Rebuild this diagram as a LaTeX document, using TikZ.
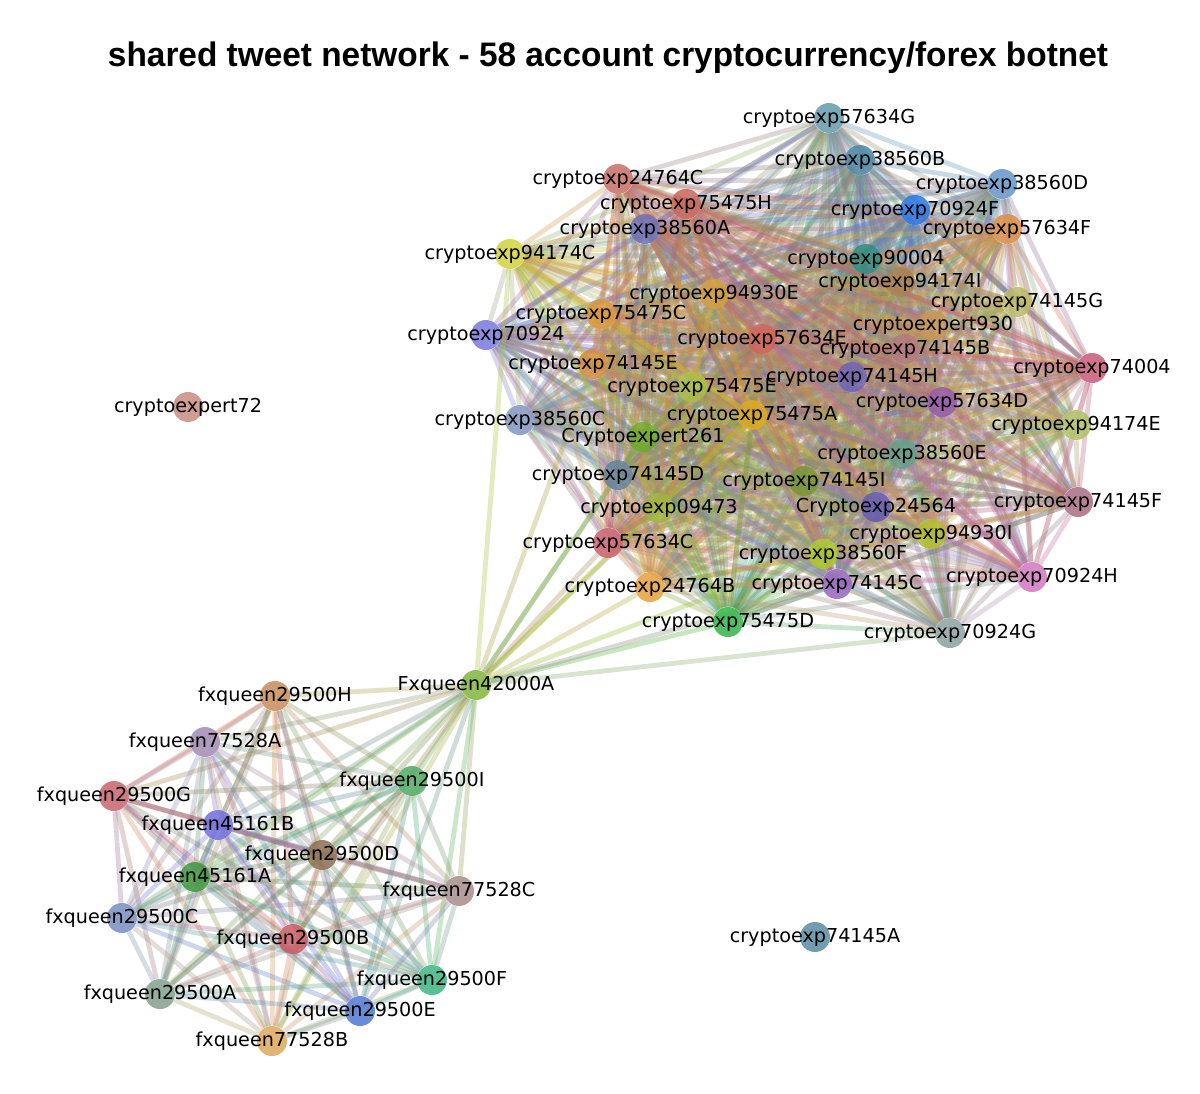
\documentclass[tikz,border=0pt]{standalone}
\usepackage{fontspec}
\usepackage{graphicx}
\newfontfamily\labelfont{DejaVu Sans}
\newfontfamily\titlefont{Liberation Sans}
\usetikzlibrary{positioning}

% crypto accounts
\definecolor{cx57634G}{RGB}{100,155,170}
\definecolor{cx38560B}{RGB}{75,135,165}
\definecolor{cx38560D}{RGB}{100,150,200}
\definecolor{cx70924F}{RGB}{40,120,230}
\definecolor{cx57634F}{RGB}{220,140,70}
\definecolor{cx90004}{RGB}{50,140,130}
\definecolor{cx94174I}{RGB}{170,130,80}
\definecolor{cx74145G}{RGB}{185,185,100}
\definecolor{cx930}{RGB}{200,150,90}
\definecolor{cx74145B}{RGB}{180,120,130}
\definecolor{cx74004}{RGB}{200,90,120}
\definecolor{cx74145H}{RGB}{110,100,180}
\definecolor{cx57634D}{RGB}{150,90,170}
\definecolor{cx94174E}{RGB}{175,190,100}
\definecolor{cx38560E}{RGB}{100,160,140}
\definecolor{cx74145I}{RGB}{120,150,50}
\definecolor{cx24564}{RGB}{100,90,180}
\definecolor{cx94930I}{RGB}{180,190,40}
\definecolor{cx74145F}{RGB}{170,110,130}
\definecolor{cx38560F}{RGB}{170,200,40}
\definecolor{cx74145C}{RGB}{150,100,190}
\definecolor{cx70924H}{RGB}{210,120,190}
\definecolor{cx70924G}{RGB}{140,160,160}
\definecolor{cx75475D}{RGB}{50,180,70}
\definecolor{cx24764B}{RGB}{230,160,60}
\definecolor{cx57634C}{RGB}{200,95,110}
\definecolor{cx09473}{RGB}{160,180,60}
\definecolor{cx74145D}{RGB}{100,130,150}
\definecolor{cx261}{RGB}{110,170,40}
\definecolor{cx38560C}{RGB}{130,150,190}
\definecolor{cx75475A}{RGB}{220,170,30}
\definecolor{cx75475E}{RGB}{170,190,70}
\definecolor{cx74145E}{RGB}{210,140,60}
\definecolor{cx70924}{RGB}{120,120,220}
\definecolor{cx75475C}{RGB}{220,150,60}
\definecolor{cx94930E}{RGB}{210,160,60}
\definecolor{cx57634E}{RGB}{210,100,90}
\definecolor{cx94174C}{RGB}{210,210,60}
\definecolor{cx38560A}{RGB}{110,110,180}
\definecolor{cx75475H}{RGB}{200,100,90}
\definecolor{cx24764C}{RGB}{200,110,100}
\definecolor{cx72}{RGB}{200,140,130}
\definecolor{cx74145A}{RGB}{90,140,160}
% forex accounts
\definecolor{fq42000A}{RGB}{130,180,60}
\definecolor{fq29500H}{RGB}{200,140,90}
\definecolor{fq77528A}{RGB}{160,140,180}
\definecolor{fq29500I}{RGB}{80,170,100}
\definecolor{fq29500G}{RGB}{200,100,110}
\definecolor{fq45161B}{RGB}{110,110,220}
\definecolor{fq29500D}{RGB}{140,110,80}
\definecolor{fq45161A}{RGB}{60,150,60}
\definecolor{fq77528C}{RGB}{170,140,140}
\definecolor{fq29500C}{RGB}{120,140,190}
\definecolor{fq29500B}{RGB}{200,90,100}
\definecolor{fq29500F}{RGB}{60,180,130}
\definecolor{fq29500A}{RGB}{130,160,140}
\definecolor{fq29500E}{RGB}{80,120,210}
\definecolor{fq77528B}{RGB}{220,170,90}

\pgfdeclarelayer{edges}
\pgfdeclarelayer{names}
\pgfsetlayers{edges,main,names}

\tikzset{
  acctdot/.style={circle, inner sep=0pt, minimum size=15pt, fill opacity=0.85, draw=none},
  acctname/.style={font=\labelfont\fontsize{9.6}{11}\selectfont, inner sep=0pt, text=black},
  share/.style={line width=2.4pt, opacity=0.32},
}

\newcommand\acct[3]{%
  \node[acctdot, fill=#1] (#1) at (#2) {};
  \begin{pgfonlayer}{names}\node[acctname] at (#1) {#3};\end{pgfonlayer}}

\newcommand\cryptoset{cx57634G,cx38560B,cx38560D,cx70924F,cx57634F,cx90004,cx94174I,cx74145G,cx930,cx74145B,cx74004,cx74145H,cx57634D,cx94174E,cx38560E,cx74145I,cx24564,cx94930I,cx74145F,cx38560F,cx74145C,cx70924H,cx70924G,cx75475D,cx24764B,cx57634C,cx09473,cx74145D,cx261,cx38560C,cx75475A,cx75475E,cx74145E,cx70924,cx75475C,cx94930E,cx57634E,cx94174C,cx38560A,cx75475H,cx24764C}
\newcommand\forexset{fq42000A,fq29500H,fq77528A,fq29500I,fq29500G,fq45161B,fq29500D,fq45161A,fq77528C,fq29500C,fq29500B,fq29500F,fq29500A,fq29500E,fq77528B}
\newcommand\bridgeset{cx94174C,cx74145E,cx74145D,cx57634C,cx09473,cx261,cx24764B,cx75475D,cx38560F,cx74145C,cx70924G,cx75475A}

\begin{document}
\begin{tikzpicture}[x=0.5pt, y=-0.5pt]
  \begin{pgfonlayer}{edges}
    \fill[white] (0,0) rectangle (1200,1093);
  \end{pgfonlayer}
  \useasboundingbox (0,0) rectangle (1200,1093);

  % Title
  \node[font=\titlefont\bfseries\fontsize{17}{20}\selectfont] (title) at (608,58)
    {\resizebox{500pt}{\height}{shared tweet network - 58 account cryptocurrency/forex botnet}};

  % Crypto cluster
  \acct{cx57634G}{829,118}{cryptoexp57634G}
  \acct{cx38560B}{860,160}{cryptoexp38560B}
  \acct{cx38560D}{1002,184}{cryptoexp38560D}
  \acct{cx70924F}{915,210}{cryptoexp70924F}
  \acct{cx57634F}{1007,229}{cryptoexp57634F}
  \acct{cx90004}{866,259}{cryptoexp90004}
  \acct{cx94174I}{900,282}{cryptoexp94174I}
  \acct{cx74145G}{1017,302}{cryptoexp74145G}
  \acct{cx930}{933,325}{cryptoexpert930}
  \acct{cx74145B}{905,349}{cryptoexp74145B}
  \acct{cx74004}{1092,368}{cryptoexp74004}
  \acct{cx74145H}{852,377}{cryptoexp74145H}
  \acct{cx57634D}{942,402}{cryptoexp57634D}
  \acct{cx94174E}{1076,425}{cryptoexp94174E}
  \acct{cx38560E}{902,454}{cryptoexp38560E}
  \acct{cx74145I}{804,481}{cryptoexp74145I}
  \acct{cx24564}{876,507}{Cryptoexp24564}
  \acct{cx94930I}{931,534}{cryptoexp94930I}
  \acct{cx74145F}{1078,502}{cryptoexp74145F}
  \acct{cx38560F}{823,554}{cryptoexp38560F}
  \acct{cx74145C}{837,584}{cryptoexp74145C}
  \acct{cx70924H}{1032,577}{cryptoexp70924H}
  \acct{cx70924G}{950,633}{cryptoexp70924G}
  \acct{cx75475D}{728,622}{cryptoexp75475D}
  \acct{cx24764B}{650,587}{cryptoexp24764B}
  \acct{cx57634C}{608,543}{cryptoexp57634C}
  \acct{cx09473}{659,508}{cryptoexp09473}
  \acct{cx74145D}{618,475}{cryptoexp74145D}
  \acct{cx261}{643,437}{Cryptoexpert261}
  \acct{cx38560C}{520,420}{cryptoexp38560C}
  \acct{cx75475A}{752,415}{cryptoexp75475A}
  \acct{cx75475E}{692,387}{cryptoexp75475E}
  \acct{cx74145E}{593,364}{cryptoexp74145E}
  \acct{cx70924}{486,335}{cryptoexp70924}
  \acct{cx75475C}{601,314}{cryptoexp75475C}
  \acct{cx94930E}{714,294}{cryptoexp94930E}
  \acct{cx57634E}{762,339}{cryptoexp57634E}
  \acct{cx94174C}{510,254}{cryptoexp94174C}
  \acct{cx38560A}{645,229}{cryptoexp38560A}
  \acct{cx75475H}{686,204}{cryptoexp75475H}
  \acct{cx24764C}{618,179}{cryptoexp24764C}

  % Forex cluster
  \acct{fq42000A}{476,685}{Fxqueen42000A}
  \acct{fq29500H}{275,696}{fxqueen29500H}
  \acct{fq77528A}{205,742}{fxqueen77528A}
  \acct{fq29500I}{412,781}{fxqueen29500I}
  \acct{fq29500G}{114,796}{fxqueen29500G}
  \acct{fq45161B}{218,825}{fxqueen45161B}
  \acct{fq29500D}{322,855}{fxqueen29500D}
  \acct{fq45161A}{195,877}{fxqueen45161A}
  \acct{fq77528C}{459,891}{fxqueen77528C}
  \acct{fq29500C}{122,918}{fxqueen29500C}
  \acct{fq29500B}{293,939}{fxqueen29500B}
  \acct{fq29500F}{432,980}{fxqueen29500F}
  \acct{fq29500A}{160,994}{fxqueen29500A}
  \acct{fq29500E}{360,1011}{fxqueen29500E}
  \acct{fq77528B}{272,1041}{fxqueen77528B}

  % Isolated accounts
  \acct{cx72}{188,407}{cryptoexpert72}
  \acct{cx74145A}{815,937}{cryptoexp74145A}

  % Shared tweets
  \begin{pgfonlayer}{edges}
    \foreach \a [count=\i] in \cryptoset {
      \foreach \b [count=\j] in \cryptoset {
        \ifnum\j>\i \draw[share, draw=\a!50!\b] (\a) -- (\b); \fi
      }
    }
    \foreach \a [count=\i] in \forexset {
      \foreach \b [count=\j] in \forexset {
        \ifnum\j>\i \draw[share, draw=\a!50!\b] (\a) -- (\b); \fi
      }
    }
    \foreach \b in \bridgeset
      \draw[share, draw=fq42000A!50!\b] (fq42000A) -- (\b);
  \end{pgfonlayer}
\end{tikzpicture}
\end{document}
